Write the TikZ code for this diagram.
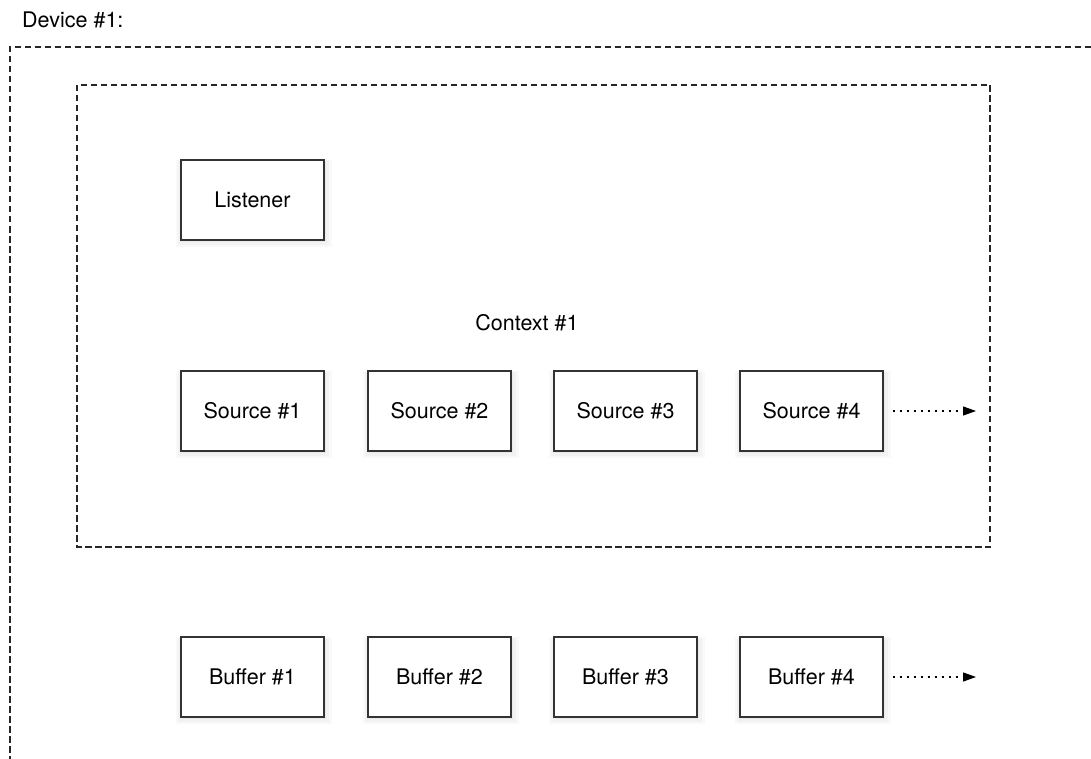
\documentclass[tikz,border=0pt]{standalone}
\usepackage{fontspec}
\setmainfont{TeX Gyre Heros}
\usetikzlibrary{arrows.meta,shadows}

\begin{document}
\begin{tikzpicture}[x=1pt,y=-1pt,
  every node/.style={font=\fontsize{21.5}{25}\selectfont},
  objbox/.style={draw=black!80,line width=1.3pt,fill=white,minimum width=143pt,minimum height=80pt,inner sep=0pt,
    drop shadow={shadow xshift=1pt,shadow yshift=-3pt,opacity=.05,shadow scale=1.09},
    drop shadow={shadow xshift=1pt,shadow yshift=-3pt,opacity=.06,shadow scale=1.05},
    drop shadow={shadow xshift=1pt,shadow yshift=-2pt,opacity=.08,shadow scale=1.01}},
  scopeline/.style={draw=black!85,line width=1.2pt,dash pattern=on 6.5pt off 3.5pt},
  moreline/.style={line width=1.2pt,dash pattern=on 2.5pt off 4.5pt,-{Triangle[length=13pt,width=9pt]}}]
\useasboundingbox (0,0) rectangle (1091,759);

\node [anchor=west,inner sep=0pt] (devlabel) at (22,20) {Device \#1:};
\draw [scopeline] (1091,47) -- (10,47) -- (10,759);
\draw [scopeline] (77,85) rectangle (990,547);
\node (ctxlabel) at (527,323) {Context \#1};

\node [objbox] (listener) at (252.5,200) {Listener};

\node [objbox] (src1) at (252.5,411) {Source \#1};
\node [objbox] (src2) at (439.5,411) {Source \#2};
\node [objbox] (src3) at (625.5,411) {Source \#3};
\node [objbox] (src4) at (811.5,411) {Source \#4};
\coordinate (srcmore) at (976,411);
\draw [moreline] ([xshift=9pt]src4.east) -- (srcmore);

%------------\\

\node [objbox] (buf1) at (252.5,677) {Buffer \#1};
\node [objbox] (buf2) at (439.5,677) {Buffer \#2};
\node [objbox] (buf3) at (625.5,677) {Buffer \#3};
\node [objbox] (buf4) at (811.5,677) {Buffer \#4};
\coordinate (bufmore) at (976,677);
\draw [moreline] ([xshift=9pt]buf4.east) -- (bufmore);
\end{tikzpicture}
\end{document}
